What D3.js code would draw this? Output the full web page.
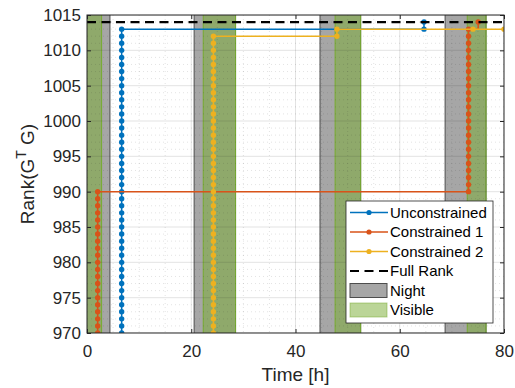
<!DOCTYPE html>
<html>
<head>
<meta charset="utf-8">
<script src="https://cdn.jsdelivr.net/npm/d3@7"></script>
<style>
  body { margin: 0; background: #fff; }
  svg { font-family: "Liberation Sans", Arial, sans-serif; }
</style>
</head>
<body>
<svg id="chart" width="515" height="388"></svg>
<script>
// [time h, rank]
const unconstrained = [
  [6.65,970],[6.65,971],[6.65,972],[6.65,973],[6.65,974],[6.65,975],[6.65,976],[6.65,977],
  [6.65,978],[6.65,979],[6.65,980],[6.65,981],[6.65,982],[6.65,983],[6.65,984],[6.65,985],
  [6.65,986],[6.65,987],[6.65,988],[6.65,989],[6.65,990],[6.65,991],[6.65,992],[6.65,993],
  [6.65,994],[6.65,995],[6.65,996],[6.65,997],[6.65,998],[6.65,999],[6.65,1000],[6.65,1001],
  [6.65,1002],[6.65,1003],[6.65,1004],[6.65,1005],[6.65,1006],[6.65,1007],[6.65,1008],[6.65,1009],
  [6.65,1010],[6.65,1011],[6.65,1012],[6.65,1013],
  [64.65,1013],[64.65,1014]
];
const constrained1 = [
  [2.05,970],[2.05,971],[2.05,972],[2.05,973],[2.05,974],[2.05,975],[2.05,976],[2.05,977],
  [2.05,978],[2.05,979],[2.05,980],[2.05,981],[2.05,982],[2.05,983],[2.05,984],[2.05,985],
  [2.05,986],[2.05,987],[2.05,988],[2.05,989],[2.05,990],
  [73.2,990],[73.2,991],[73.2,992],[73.2,993],[73.2,994],[73.2,995],[73.2,996],[73.2,997],
  [73.2,998],[73.2,999],[73.2,1000],[73.2,1001],[73.2,1002],[73.2,1003],[73.2,1004],[73.2,1005],
  [73.2,1006],[73.2,1007],[73.2,1008],[73.2,1009],[73.2,1010],[73.2,1011],[73.2,1012],[73.2,1013],
  [75.05,1014]
];
const constrained2 = [
  [24.25,970],[24.25,971],[24.25,972],[24.25,973],[24.25,974],[24.25,975],[24.25,976],[24.25,977],
  [24.25,978],[24.25,979],[24.25,980],[24.25,981],[24.25,982],[24.25,983],[24.25,984],[24.25,985],
  [24.25,986],[24.25,987],[24.25,988],[24.25,989],[24.25,990],[24.25,991],[24.25,992],[24.25,993],
  [24.25,994],[24.25,995],[24.25,996],[24.25,997],[24.25,998],[24.25,999],[24.25,1000],[24.25,1001],
  [24.25,1002],[24.25,1003],[24.25,1004],[24.25,1005],[24.25,1006],[24.25,1007],[24.25,1008],[24.25,1009],
  [24.25,1010],[24.25,1011],[24.25,1012],
  [47.95,1012],[47.95,1013],[74.05,1013],[80,1013]
];
const fullRank = 1014;
const nightIntervals = [[-3, 4.4], [20.55, 28.5], [44.7, 52.5], [68.7, 76.55]];
const visibleIntervals = [[-3, 2.8], [22.3, 28.5], [47.6, 52.5], [72.95, 76.55]];
const xTicks = [0, 20, 40, 60, 80];
const yTicks = [970, 975, 980, 985, 990, 995, 1000, 1005, 1010, 1015];
const xMinor = [5, 10, 15, 25, 30, 35, 45, 50, 55, 65, 70, 75];
const yMinor = d3.range(970, 1016).filter(v => v % 5 !== 0);

const series = [
  { name: "Unconstrained", data: unconstrained, color: "#0072BD" },
  { name: "Constrained 1", data: constrained1, color: "#D95319" },
  { name: "Constrained 2", data: constrained2, color: "#EDB120" }
];

const svg = d3.select("#chart");
const margin = { left: 87, right: 11, top: 15, bottom: 55 };
const W = 515, H = 388;
const x = d3.scaleLinear().domain([0, 80]).range([margin.left, W - margin.right]);
const y = d3.scaleLinear().domain([970, 1015]).range([H - margin.bottom, margin.top]);
const axisColor = "#262626";

svg.append("defs").append("clipPath").attr("id", "clip")
  .append("rect")
  .attr("x", x(0)).attr("y", y(1015))
  .attr("width", x(80) - x(0)).attr("height", y(970) - y(1015));

const plot = svg.append("g").attr("clip-path", "url(#clip)");

plot.selectAll(".night")
  .data(nightIntervals)
  .join("rect")
  .attr("class", "night")
  .attr("x", d => x(d[0]))
  .attr("width", d => x(d[1]) - x(d[0]))
  .attr("y", y(1015) - 2)
  .attr("height", y(970) - y(1015) + 4)
  .attr("fill", "#a6a6a6")
  .attr("stroke", "#4d4d4d")
  .attr("stroke-width", 1);

plot.selectAll(".visible")
  .data(visibleIntervals)
  .join("rect")
  .attr("class", "visible")
  .attr("x", d => x(d[0]))
  .attr("width", d => x(d[1]) - x(d[0]))
  .attr("y", y(1015) - 2)
  .attr("height", y(970) - y(1015) + 4)
  .attr("fill", "#77AC30")
  .attr("fill-opacity", 0.5)
  .attr("stroke", "#77AC30")
  .attr("stroke-width", 1);

// grid
const grid = plot.append("g");
grid.selectAll(".xminor").data(xMinor).join("line")
  .attr("x1", d => x(d)).attr("x2", d => x(d))
  .attr("y1", y(1015)).attr("y2", y(970))
  .attr("stroke", "rgba(38,38,38,0.13)").attr("stroke-dasharray", "1,3");
grid.selectAll(".yminor").data(yMinor).join("line")
  .attr("y1", d => y(d)).attr("y2", d => y(d))
  .attr("x1", x(0)).attr("x2", x(80))
  .attr("stroke", "rgba(38,38,38,0.13)").attr("stroke-dasharray", "1,3");
grid.selectAll(".xmajor").data(xTicks).join("line")
  .attr("x1", d => x(d)).attr("x2", d => x(d))
  .attr("y1", y(1015)).attr("y2", y(970))
  .attr("stroke", "rgba(38,38,38,0.13)");
grid.selectAll(".ymajor").data(yTicks).join("line")
  .attr("y1", d => y(d)).attr("y2", d => y(d))
  .attr("x1", x(0)).attr("x2", x(80))
  .attr("stroke", "rgba(38,38,38,0.13)");

const line = d3.line()
  .x(d => x(d[0]))
  .y(d => y(d[1]))
  .curve(d3.curveStepAfter);

series.forEach(s => {
  plot.append("path")
    .attr("d", line(s.data))
    .attr("fill", "none")
    .attr("stroke", s.color)
    .attr("stroke-width", 1.5);
  plot.selectAll(null)
    .data(s.data)
    .join("circle")
    .attr("cx", d => x(d[0]))
    .attr("cy", d => y(d[1]))
    .attr("r", 2.7)
    .attr("fill", s.color);
});

plot.append("line")
  .attr("x1", x(0)).attr("x2", x(80))
  .attr("y1", y(fullRank)).attr("y2", y(fullRank))
  .attr("stroke", "#000")
  .attr("stroke-width", 2.2)
  .attr("stroke-dasharray", "9,5.5");

// axes
const styleAxis = g => {
  g.select(".domain").remove();
  g.selectAll(".tick line").attr("stroke", axisColor);
  g.selectAll(".tick text").attr("fill", axisColor).attr("font-size", 17);
};

svg.append("g")
  .attr("transform", `translate(0,${y(970)})`)
  .call(d3.axisBottom(x).tickValues(xTicks).tickSize(-4).tickPadding(12).tickFormat(d3.format("d")))
  .call(styleAxis);
svg.append("g")
  .attr("transform", `translate(0,${y(1015)})`)
  .call(d3.axisTop(x).tickValues(xTicks).tickSize(-4).tickFormat(""))
  .call(styleAxis);
svg.append("g")
  .attr("transform", `translate(${x(0)},0)`)
  .call(d3.axisLeft(y).tickValues(yTicks).tickSize(-4).tickPadding(6).tickFormat(d3.format("d")))
  .call(styleAxis);
svg.append("g")
  .attr("transform", `translate(${x(80)},0)`)
  .call(d3.axisRight(y).tickValues(yTicks).tickSize(-4).tickFormat(""))
  .call(styleAxis);

svg.append("rect")
  .attr("x", x(0)).attr("y", y(1015))
  .attr("width", x(80) - x(0)).attr("height", y(970) - y(1015))
  .attr("fill", "none")
  .attr("stroke", axisColor)
  .attr("stroke-width", 1);

svg.append("text")
  .attr("x", (x(0) + x(80)) / 2)
  .attr("y", 381)
  .attr("text-anchor", "middle")
  .attr("font-size", 19)
  .attr("fill", axisColor)
  .text("Time [h]");

const yl = svg.append("text")
  .attr("transform", `translate(34,${(y(970) + y(1015)) / 2}) rotate(-90)`)
  .attr("text-anchor", "middle")
  .attr("font-size", 19)
  .attr("fill", axisColor);
yl.append("tspan").text("Rank(G");
yl.append("tspan").attr("dy", -8).attr("font-size", 14).text("T");
yl.append("tspan").attr("dy", 8).text(" G)");

// legend
const legend = svg.append("g").attr("transform", "translate(346,201)");
legend.append("rect")
  .attr("width", 147).attr("height", 122)
  .attr("fill", "#fff")
  .attr("stroke", axisColor)
  .attr("stroke-width", 0.8);

const legendItems = [
  ...series.map(s => ({ name: s.name, type: "line", color: s.color })),
  { name: "Full Rank", type: "dash", color: "#000" },
  { name: "Night", type: "night" },
  { name: "Visible", type: "visible" }
];
const rowH = 19.5;
legendItems.forEach((it, i) => {
  const cy = 11.5 + i * rowH;
  const g = legend.append("g").attr("transform", `translate(0,${cy})`);
  if (it.type === "line") {
    g.append("line").attr("x1", 4).attr("x2", 42).attr("stroke", it.color).attr("stroke-width", 1.5);
    g.append("circle").attr("cx", 23).attr("r", 2.6).attr("fill", it.color);
  } else if (it.type === "dash") {
    g.append("line").attr("x1", 4).attr("x2", 42).attr("stroke", "#000")
      .attr("stroke-width", 2.2).attr("stroke-dasharray", "9,5.5");
  } else if (it.type === "night") {
    g.append("rect").attr("x", 4).attr("y", -7).attr("width", 37).attr("height", 14)
      .attr("fill", "#a6a6a6").attr("stroke", "#4d4d4d");
  } else {
    g.append("rect").attr("x", 4).attr("y", -7).attr("width", 37).attr("height", 14)
      .attr("fill", "#77AC30").attr("fill-opacity", 0.5).attr("stroke", "#77AC30").attr("stroke-opacity", 0.5);
  }
  g.append("text")
    .attr("x", 44)
    .attr("dy", "0.35em")
    .attr("font-size", 15)
    .attr("fill", "#000")
    .text(it.name);
});
</script>
</body>
</html>
